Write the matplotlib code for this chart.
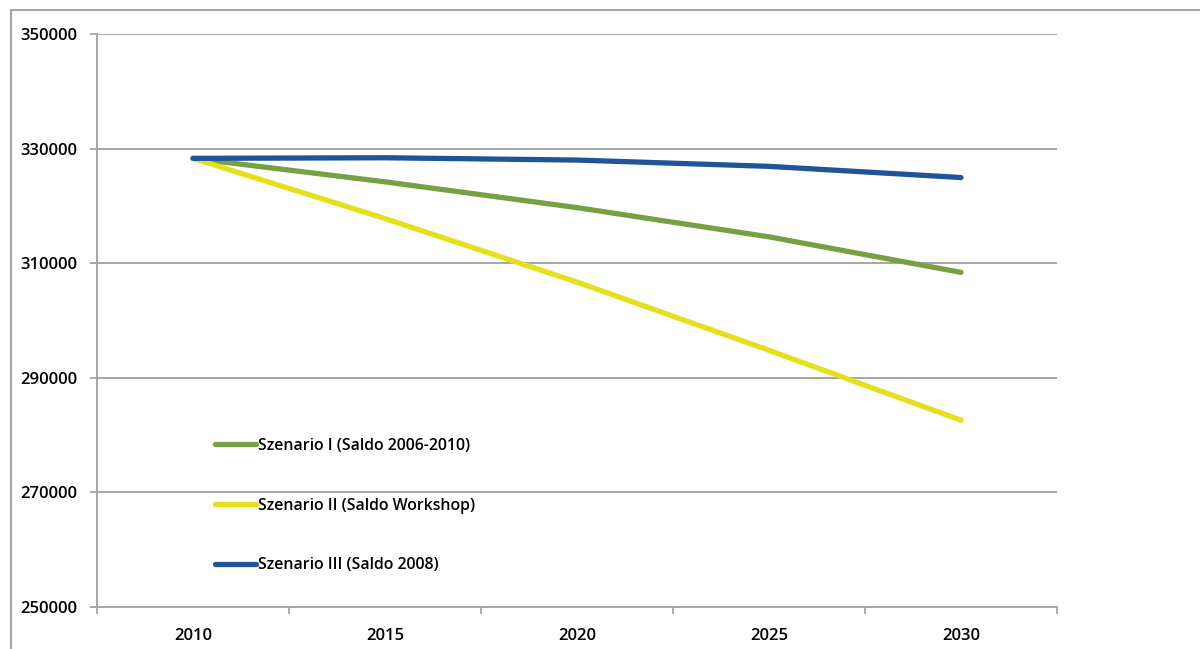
import matplotlib
matplotlib.use("Agg")
import matplotlib.pyplot as plt
from matplotlib.patches import Rectangle

years = ["2010", "2015", "2020", "2025", "2030"]
szenario_1 = [328300, 324200, 319700, 314600, 308400]
szenario_2 = [328300, 317800, 306700, 294800, 282600]
szenario_3 = [328300, 328400, 328000, 326900, 324950]
labels = ["Szenario I (Saldo 2006-2010)", "Szenario II (Saldo Workshop)", "Szenario III (Saldo 2008)"]
colors = ["#77a043", "#e6df1c", "#1f5597"]
yticks = [250000, 270000, 290000, 310000, 330000, 350000]

plt.rcParams['font.family'] = ['Open Sans', 'DejaVu Sans']
plt.rcParams['font.weight'] = 'semibold'

fig = plt.figure(figsize=(12, 6.49), dpi=100)
ax = fig.add_axes([97/1200, 1-607/649, 960/1200, 573/649])

# outer chart frame (cut off at right/bottom)
fig.patches.append(Rectangle((11/1200, -0.1), 1.2, 1.1 - 10/649, transform=fig.transFigure,
                             fill=False, edgecolor="#a6a6a6", linewidth=1.5, clip_on=False))

x = list(range(len(years)))
for vals, lab, col in zip([szenario_1, szenario_2, szenario_3], labels, colors):
    ax.plot(x, vals, color=col, lw=3.8, solid_capstyle='round', label=lab)

ax.set_xlim(-0.5, len(years) - 0.5)
ax.set_ylim(250000, 350000)
ax.set_yticks(yticks)
ax.set_yticklabels([str(v) for v in yticks])
ax.set_xticks(x)
ax.set_xticklabels(years)
ax.set_xticks([i - 0.5 for i in range(len(years) + 1)], minor=True)
ax.tick_params(axis='x', which='major', length=0, pad=15, labelsize=12)
ax.tick_params(axis='x', which='minor', length=5, width=1.2, color="#999999", direction='out')
ax.tick_params(axis='y', length=5, width=1.2, color="#999999", pad=9, labelsize=12)

ax.yaxis.grid(True, color="#a6a6a6", lw=1.4)
ax.set_axisbelow(True)
for s in ['top', 'right']:
    ax.spines[s].set_visible(False)
for s in ['left', 'bottom']:
    ax.spines[s].set_color("#a6a6a6")
    ax.spines[s].set_linewidth(1.4)

ax.legend(loc='upper left', bbox_to_anchor=(118/960, 1 - 404/573), frameon=False,
          fontsize=11.4, handlelength=2.6, handletextpad=0.1, labelspacing=2.75,
          borderpad=0, borderaxespad=0)

fig.savefig("out.png", dpi=100)
